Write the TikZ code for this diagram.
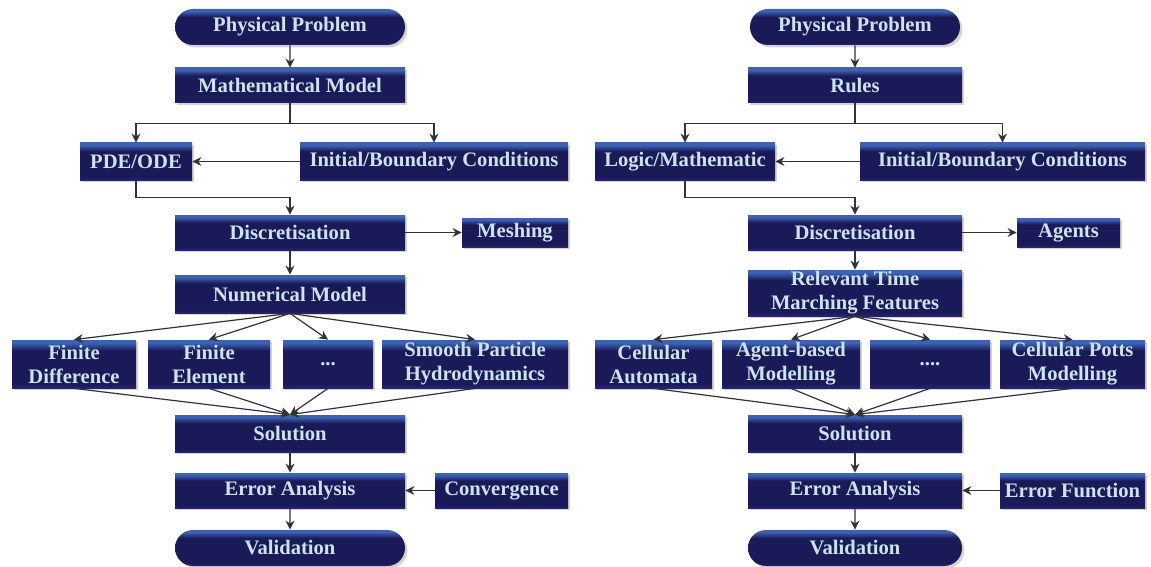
\documentclass[tikz,border=0pt]{standalone}
\usepackage{fontspec}
\setmainfont{Liberation Serif}
\usepackage{xcolor}
\usetikzlibrary{arrows.meta,positioning,shapes.misc,shadows}

\definecolor{boxnavy}{HTML}{1B1A58}
\definecolor{boxtop}{HTML}{3D62B2}
\definecolor{boxbot}{HTML}{23266A}
\definecolor{boxtext}{HTML}{CBE3EC}
\definecolor{linegray}{HTML}{333333}
\pgfdeclareverticalshading{navyshade}{100bp}{color(0bp)=(boxbot); color(25bp)=(boxbot); color(29bp)=(boxnavy); color(64bp)=(boxnavy); color(72bp)=(boxtop); color(75bp)=(boxtop); color(100bp)=(boxtop)}

\begin{document}
\begin{tikzpicture}[x=0.5pt, y=0.5pt,
  box/.style={shading=navyshade, text=boxtext, align=center, inner sep=0pt, font=\bfseries\fontsize{10.3}{12}\selectfont, drop shadow={shadow xshift=1.2pt, shadow yshift=-1.2pt, opacity=0.35}},
  lcol/.style={box, minimum width=115pt, minimum height=17.5pt},
  rcol/.style={box, minimum width=107pt, minimum height=17.5pt},
  term/.style={rounded rectangle, minimum height=18pt},
  arr/.style={-{Stealth[length=4.5pt, width=4.5pt]}, draw=linegray, line width=0.6pt}
]
\useasboundingbox (0,0) rectangle (1151,-567);

% left chart
\node[lcol, term] (pp1) at (290,-27) {Physical Problem};
\node[lcol] (mm) at (290,-85.5) {Mathematical Model};
\node[box, minimum width=56pt, minimum height=18.5pt] (pde) at (136,-161.5) {PDE/ODE};
\node[box, minimum width=134pt, minimum height=18.5pt] (ibc1) at (434,-161.5) {Initial/Boundary Conditions};
\node[lcol] (disc1) at (290,-232.5) {Discretisation};
\node[box, minimum width=53pt, minimum height=14.5pt] (mesh) at (515,-232.5) {Meshing};
\node[lcol, minimum height=19pt] (nm) at (290,-294) {Numerical Model};
\node[box, minimum width=62pt, minimum height=24pt] (fd) at (74,-364) {Finite\\Difference};
\node[box, minimum width=61pt, minimum height=24pt] (fe) at (209,-364) {Finite\\Element};
\node[box, minimum width=45pt, minimum height=24pt] (dots1) at (328,-364) {...};
\node[box, minimum width=93pt, minimum height=24pt] (sph) at (475,-364) {Smooth Particle\\Hydrodynamics};
\node[lcol, minimum height=18.5pt] (sol1) at (290,-433.5) {Solution};
\node[lcol] (ea1) at (290,-490.5) {Error Analysis};
\node[box, minimum width=66.5pt, minimum height=17.5pt] (conv) at (501.5,-490.5) {Convergence};
\node[lcol, term] (val1) at (290,-548) {Validation};

% right chart
\node[box, term, minimum width=105pt] (pp2) at (855,-27) {Physical Problem};
\node[rcol] (rules) at (855,-85.5) {Rules};
\node[box, minimum width=90pt, minimum height=18.5pt] (logic) at (685,-161.5) {Logic/Mathematic};
\node[box, minimum width=142.5pt, minimum height=18.5pt] (ibc2) at (1002.5,-161.5) {Initial/Boundary Conditions};
\node[rcol] (disc2) at (855,-232.5) {Discretisation};
\node[box, minimum width=51.5pt, minimum height=14.5pt] (agents) at (1068.5,-232.5) {Agents};
\node[rcol, minimum height=23pt] (rtm) at (855,-293) {Relevant Time\\Marching Features};
\node[box, minimum width=58.5pt, minimum height=24pt] (ca) at (653.5,-364) {Cellular\\Automata};
\node[box, minimum width=69pt, minimum height=24pt] (abm) at (791,-364) {Agent-based\\Modelling};
\node[box, minimum width=60pt, minimum height=24pt] (dots2) at (930,-364) {....};
\node[box, minimum width=72.5pt, minimum height=24pt] (cpm) at (1072.5,-364) {Cellular Potts\\Modelling};
\node[rcol, minimum height=18.5pt] (sol2) at (855,-433.5) {Solution};
\node[rcol] (ea2) at (855,-490.5) {Error Analysis};
\node[box, minimum width=72.5pt, minimum height=17.5pt] (errf) at (1072.5,-490.5) {Error Function};
\node[rcol, term] (val2) at (855,-548) {Validation};

\draw[arr] (pp1) -- (mm);
\draw[arr] (mm.south) -- ++(0,-20) -| (pde.north);
\draw[arr] (mm.south) -- ++(0,-20) -| (ibc1.north);
\draw[arr] (ibc1) -- (pde);
\draw[arr] (pde.south) -- ++(0,-17) -| (disc1.north);
\draw[arr] (disc1) -- (mesh);
\draw[arr] (disc1) -- (nm);
\foreach \n in {fd,fe,dots1,sph} \draw[arr] (nm.south) -- (\n.north);
\foreach \n in {fd,fe,dots1,sph} \draw[arr] (\n.south) -- (sol1.north);
\draw[arr] (sol1) -- (ea1);
\draw[arr] (conv) -- (ea1);
\draw[arr] (ea1) -- (val1);

\draw[arr] (pp2) -- (rules);
\draw[arr] (rules.south) -- ++(0,-20) -| (logic.north);
\draw[arr] (rules.south) -- ++(0,-20) -| (ibc2.north);
\draw[arr] (ibc2) -- (logic);
\draw[arr] (logic.south) -- ++(0,-17) -| (disc2.north);
\draw[arr] (disc2) -- (agents);
\draw[arr] (disc2) -- (rtm);
\foreach \n in {ca,abm,dots2,cpm} \draw[arr] (rtm.south) -- (\n.north);
\foreach \n in {ca,abm,dots2,cpm} \draw[arr] (\n.south) -- (sol2.north);
\draw[arr] (sol2) -- (ea2);
\draw[arr] (errf) -- (ea2);
\draw[arr] (ea2) -- (val2);
\end{tikzpicture}
\end{document}
